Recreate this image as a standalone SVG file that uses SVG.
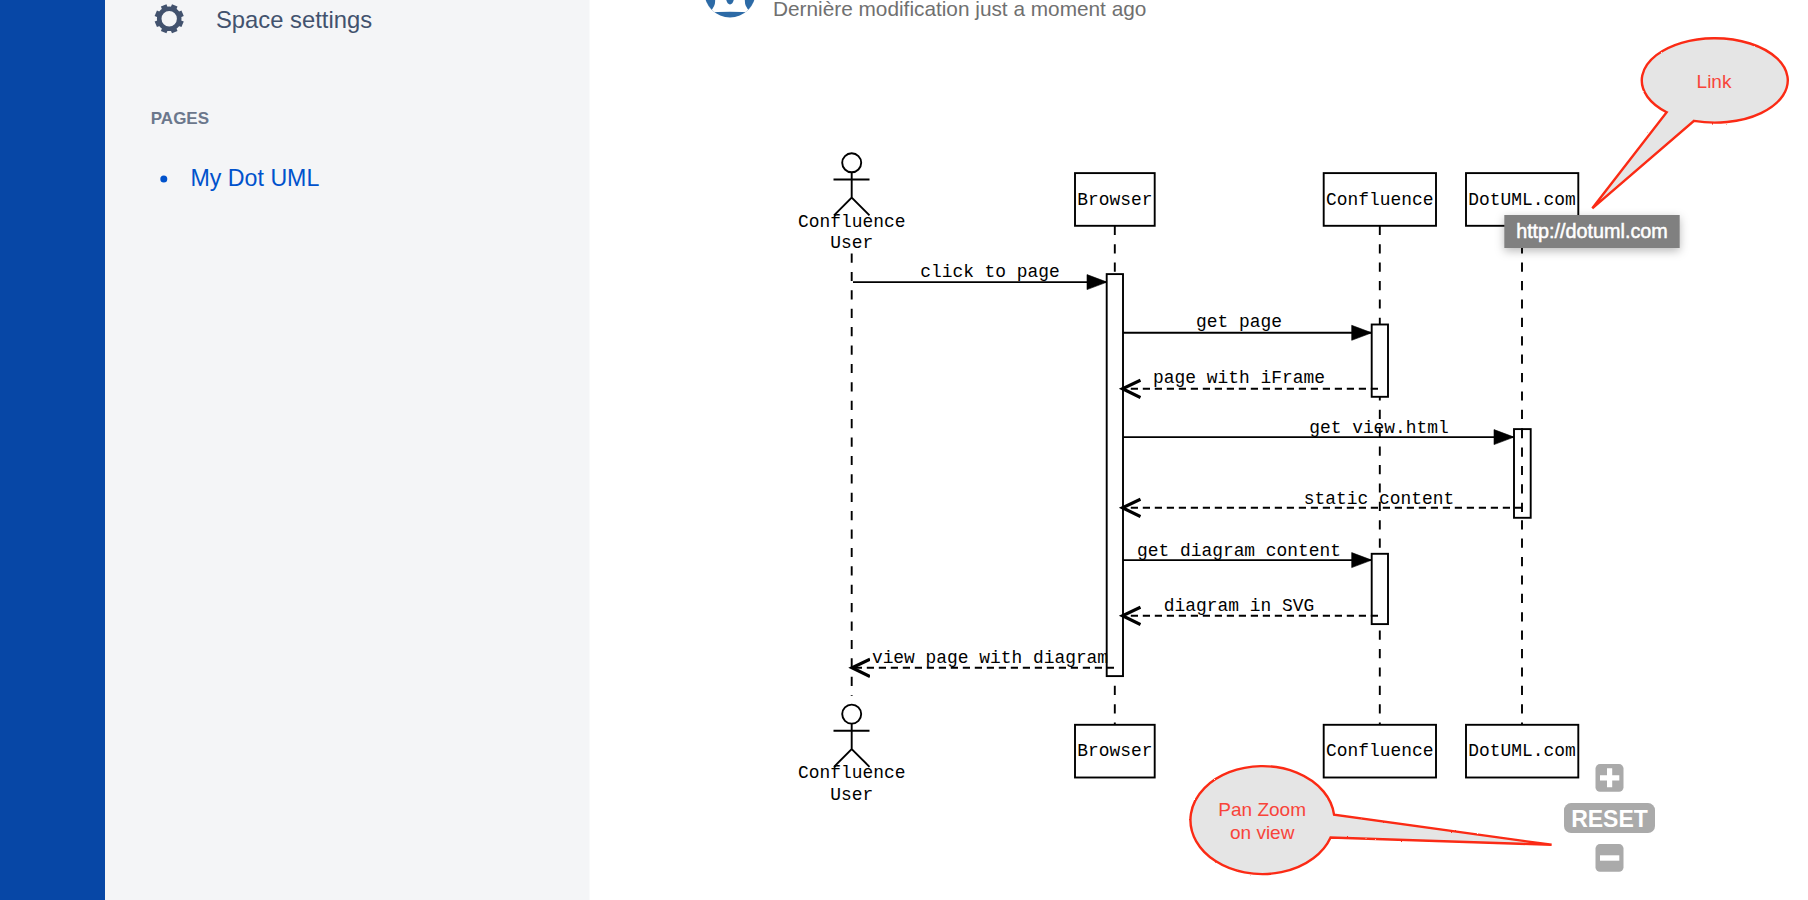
<svg xmlns="http://www.w3.org/2000/svg" width="1808" height="900" viewBox="0 0 1808 900">
<style>
.m{font-family:"Liberation Mono",monospace;font-size:17.9px;fill:#000;text-anchor:middle}
.ui{font-family:"Liberation Sans",Arial,sans-serif}
.box{fill:#fff;stroke:#000;stroke-width:1.9}
.life{stroke:#000;stroke-width:1.9;stroke-dasharray:9.2 9.2;fill:none}
.act{fill:#fff;stroke:#000;stroke-width:1.9}
.solid{stroke:#000;stroke-width:1.9;fill:none;marker-end:url(#tri)}
.ret{stroke:#000;stroke-width:1.9;fill:none;stroke-dasharray:7.2 4.8;marker-end:url(#open)}
.fig{fill:none;stroke:#000;stroke-width:1.9}
.bal{fill:#e5e5e5;stroke:#fb2a12;stroke-width:2.4;stroke-linejoin:miter;filter:url(#rough)}
.baltxt{font-family:"Liberation Sans",Arial,sans-serif;font-size:19px;fill:#f8443a;text-anchor:middle}
.btn{fill:#aaa}
</style>
<defs>
<marker id="tri" markerUnits="userSpaceOnUse" markerWidth="24" markerHeight="20" refX="21" refY="10" orient="auto"><path d="M1 2.500L21 10L1 17.500Z" fill="#000" stroke="#000" stroke-width=".6"/></marker>
<marker id="open" markerUnits="userSpaceOnUse" markerWidth="26" markerHeight="26" refX="18" refY="13" orient="auto"><path d="M0 4.300L18 13L0 21.700" fill="none" stroke="#000" stroke-width="3.200"/></marker>
<filter id="sh" x="-15%" y="-40%" width="130%" height="200%"><feDropShadow dx="0" dy="3" stdDeviation="5" flood-color="#000" flood-opacity=".28"/></filter>
<filter id="rough" x="-5%" y="-5%" width="110%" height="110%"><feTurbulence type="fractalNoise" baseFrequency=".35" numOctaves="2" seed="4"/><feDisplacementMap in="SourceGraphic" scale="1.600"/></filter>
<clipPath id="av"><circle cx="730" cy="-8" r="25.500"/></clipPath>
</defs>

<g id="page-chrome">
<rect x="0" y="0" width="1808" height="900" fill="#fff"/>
<rect x="0" y="0" width="105" height="900" fill="#0747a6"/>
<rect x="105" y="0" width="484.500" height="900" fill="#f4f5f7"/>
</g>
<g id="space-settings">
<g fill="#42526e">
<circle cx="169.200" cy="18.800" r="10" fill="none" stroke="#42526e" stroke-width="4.600"/>
<g id="gear-teeth">
<rect x="166.200" y="4.300" width="6" height="5" transform="rotate(22.500 169.200 18.800)"/>
<rect x="166.200" y="4.300" width="6" height="5" transform="rotate(67.500 169.200 18.800)"/>
<rect x="166.200" y="4.300" width="6" height="5" transform="rotate(112.500 169.200 18.800)"/>
<rect x="166.200" y="4.300" width="6" height="5" transform="rotate(157.500 169.200 18.800)"/>
<rect x="166.200" y="4.300" width="6" height="5" transform="rotate(202.500 169.200 18.800)"/>
<rect x="166.200" y="4.300" width="6" height="5" transform="rotate(247.500 169.200 18.800)"/>
<rect x="166.200" y="4.300" width="6" height="5" transform="rotate(292.500 169.200 18.800)"/>
<rect x="166.200" y="4.300" width="6" height="5" transform="rotate(337.500 169.200 18.800)"/>
</g>
</g>
<text class="ui" x="216" y="28.300" font-size="23.800" fill="#42526e">Space settings</text>
</g>
<g id="pages-nav">
<text class="ui" x="150.800" y="124.300" font-size="17" font-weight="700" fill="#6b778c">PAGES</text>
<circle cx="163.800" cy="179" r="3.500" fill="#0052cc"/>
<text class="ui" x="190.500" y="185.800" font-size="23.200" fill="#0052cc">My Dot UML</text>
</g>
<g id="page-meta">
<g clip-path="url(#av)">
<rect x="700" y="-40" width="60" height="60" fill="#2c6aa6"/>
<path d="M700 -1H760V13.500Q730 10 700 13.500Z" fill="#fff"/>
<path d="M700 -1H715Q716 6 710.500 11H700Z" fill="#2c6aa6"/>
<path d="M760 -1H745Q744 6 749.500 11H760Z" fill="#2c6aa6"/>
<path d="M726 -1Q727 4 730 4.500Q733 4 734 -1Z" fill="#2c6aa6"/>
</g>
<text class="ui" x="773" y="16.300" font-size="20.800" fill="#707070">Dernière modification just a moment ago</text>
</g>

<g id="diagram" transform="translate(0 .8)">
<g id="lifelines">
<path class="life" d="M851.700 252.700V695"/>
<path class="life" d="M1114.800 225V724"/>
<path class="life" d="M1379.800 225V724"/>
<path class="life" d="M1522 225V724"/>
</g>

<g id="activations">
<rect class="act" x="1106.700" y="273.300" width="16.300" height="402"/>
<rect class="act" x="1371.700" y="323.700" width="16.300" height="72.300"/>
<rect class="act" x="1371.700" y="553" width="16.300" height="70.300"/>
<rect class="act" x="1514" y="428.300" width="16.700" height="88.700"/>
<path class="life" d="M1522 428.300V517"/>
</g>

<g id="actor-top">
<circle class="fig" cx="851.700" cy="162" r="9.500"/>
<path class="fig" d="M833.500 178.700H869.500M851.700 171.500V196.700M834 214.500L851.700 196.700L869.500 214.500"/>
<text class="m" x="851.700" y="226">Confluence</text>
<text class="m" x="851.700" y="247.700">User</text>
</g>
<g id="browser-top">
<rect class="box" x="1075" y="172.300" width="79.700" height="52.700"/>
<text class="m" x="1114.800" y="204">Browser</text>
</g>
<g id="confluence-top">
<rect class="box" x="1323.700" y="172.300" width="112.300" height="52.700"/>
<text class="m" x="1379.800" y="204">Confluence</text>
</g>
<g id="dotuml-top">
<rect class="box" x="1466" y="172.300" width="112.300" height="52.700"/>
<text class="m" x="1522" y="204">DotUML.com</text>
</g>
<g id="actor-bottom">
<circle class="fig" cx="851.700" cy="713.300" r="9.500"/>
<path class="fig" d="M833.500 730H869.500M851.700 722.800V748.300M834 766L851.700 748.300L869.500 766"/>
<text class="m" x="851.700" y="777.700">Confluence</text>
<text class="m" x="851.700" y="799">User</text>
</g>
<g id="browser-bottom">
<rect class="box" x="1075" y="724" width="79.700" height="52.700"/>
<text class="m" x="1114.800" y="755.700">Browser</text>
</g>
<g id="confluence-bottom">
<rect class="box" x="1323.700" y="724" width="112.300" height="52.700"/>
<text class="m" x="1379.800" y="755.700">Confluence</text>
</g>
<g id="dotuml-bottom">
<rect class="box" x="1466" y="724" width="112.300" height="52.700"/>
<text class="m" x="1522" y="755.700">DotUML.com</text>
</g>

<g id="connectors">
<path class="solid" d="M853 281.300H1107"/>
<text class="m" x="990" y="276">click to page</text>
<path class="solid" d="M1123 332H1371.700"/>
<text class="m" x="1239" y="326.700">get page</text>
<path class="ret" d="M1378 388H1122.500"/>
<text class="m" x="1239" y="382.300">page with iFrame</text>
<path class="solid" d="M1123 436.300H1514"/>
<text class="m" x="1379" y="432.700">get view.html</text>
<path class="ret" d="M1522 507H1122.500"/>
<text class="m" x="1379" y="503.300">static content</text>
<path class="solid" d="M1123 559.300H1371.700"/>
<text class="m" x="1239" y="555.700">get diagram content</text>
<path class="ret" d="M1378 615H1122.500"/>
<text class="m" x="1239" y="610">diagram in SVG</text>
<path class="ret" d="M1114 667H852"/>
<text class="m" x="990" y="662.700">view page with diagram</text>
</g>
</g>

<g id="tooltip">
<rect x="1504.300" y="215" width="175.400" height="33" fill="#808080" filter="url(#sh)"/>
<text class="ui" x="1592" y="238.300" font-size="19.800" fill="#fff" text-anchor="middle" stroke="#fff" stroke-width=".5">http://dotuml.com</text>
</g>
<g id="balloon-link">
<path class="bal" d="M1666.700 112.200A73 42.200 0 1 1 1694 120.900L1592.300 208.300Z"/>
<text class="baltxt" x="1714" y="88.300">Link</text>
</g>
<g id="balloon-panzoom" transform="translate(0 .8)">
<path class="bal" d="M1334.100 814A72 54 0 1 0 1330.600 836.700L1551.600 844Z"/>
<text class="baltxt" x="1262.200" y="815">Pan Zoom</text>
<text class="baltxt" x="1262.200" y="838.300">on view</text>
</g>
<g id="zoom-plus" transform="translate(0 .8)">
<rect class="btn" x="1595.500" y="763.300" width="28" height="27.700" rx="4.500"/>
<path d="M1600 777H1619.300M1609.600 767.500V786.500" stroke="#fff" stroke-width="5.200" fill="none"/>
</g>
<g id="zoom-reset" transform="translate(0 .8)">
<rect class="btn" x="1564" y="802.300" width="91" height="30" rx="7"/>
<text class="ui" x="1609.500" y="826.500" font-size="23" font-weight="700" fill="#fff" text-anchor="middle">RESET</text>
</g>
<g id="zoom-minus" transform="translate(0 .8)">
<rect class="btn" x="1595.500" y="843.300" width="28" height="27.700" rx="4.500"/>
<path d="M1600 857.200H1619.300" stroke="#fff" stroke-width="5.400" fill="none"/>
</g>
</svg>
